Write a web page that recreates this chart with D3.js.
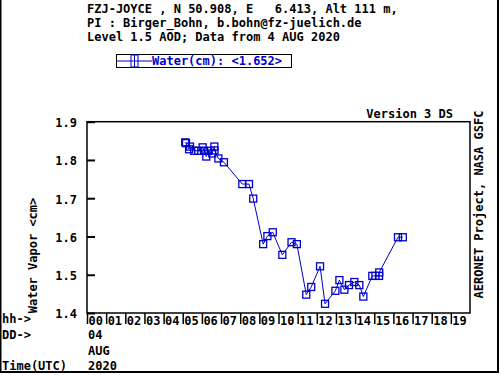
<!DOCTYPE html>
<html><head><meta charset="utf-8">
<script src="https://cdn.jsdelivr.net/npm/d3@7"></script>
<style>body{margin:0;background:#fff}svg{display:block}text{font-family:"DejaVu Sans Mono",monospace;font-weight:bold;font-size:12px}</style>
</head><body>
<script>
const hours = [5.13,5.17,5.33,5.38,5.60,5.81,6.04,6.11,6.23,6.33,6.54,6.65,6.66,6.86,7.15,8.11,8.46,8.68,9.20,9.42,9.70,10.20,10.68,10.96,11.45,11.71,12.17,12.43,12.97,13.18,13.44,13.68,13.96,14.22,14.43,14.90,15.06,15.25,15.26,16.24,16.49];
const water = [1.846,1.844,1.828,1.835,1.824,1.824,1.833,1.824,1.809,1.824,1.817,1.835,1.825,1.804,1.794,1.737,1.737,1.699,1.580,1.601,1.611,1.552,1.585,1.580,1.448,1.468,1.522,1.424,1.458,1.486,1.461,1.473,1.481,1.473,1.443,1.497,1.497,1.497,1.506,1.598,1.598];
const yTicks = [1.4,1.5,1.6,1.7,1.8,1.9];
const hourLabels = ["00","01","02","03","04","05","06","07","08","09","10","11","12","13","14","15","16","17","18","19"];
const headerLines = ["FZJ-JOYCE , N 50.908, E   6.413, Alt 111 m,","PI : Birger_Bohn, b.bohn@fz-juelich.de","Level 1.5 AOD; Data from 4 AUG 2020"];
const legendLabel = "Water(cm): <1.652>";
const blue = "#0000cc";

const W=500,H=375;
const svg=d3.select("body").append("svg").attr("width",W).attr("height",H);
const L=87,R=470,T=121.7,B=313;
const x=d3.scaleLinear().domain([0,20]).range([L,R]);
const y=d3.scaleLinear().domain([1.4,1.9]).range([B,T]);

// outer frame
svg.append("rect").attr("x",0.5).attr("y",-2).attr("width",497.5).attr("height",374).attr("fill","none").attr("stroke","#000").attr("stroke-width",2);

// header
svg.selectAll(".hdr").data(headerLines).join("text").attr("class","hdr")
  .attr("x",87).attr("y",(d,i)=>13+i*14).attr("xml:space","preserve").style("white-space","pre").text(d=>d);

// legend
const lg=svg.append("g");
lg.append("rect").attr("x",116.5).attr("y",54.5).attr("width",175).attr("height",13).attr("fill","none").attr("stroke","#000").attr("stroke-width",1);
lg.append("line").attr("x1",117).attr("x2",152).attr("y1",61).attr("y2",61).attr("stroke",blue);
lg.append("rect").attr("x",131).attr("y",55).attr("width",7).attr("height",12).attr("fill","none").attr("stroke",blue);
lg.append("line").attr("x1",134.5).attr("x2",134.5).attr("y1",55).attr("y2",67).attr("stroke",blue);
lg.append("text").attr("x",152).attr("y",65).attr("fill",blue).text(legendLabel);

// plot frame
svg.append("rect").attr("x",L).attr("y",T).attr("width",R-L).attr("height",B-T).attr("fill","none").attr("stroke","#000").attr("stroke-width",1.5);

// y axis
const ya=d3.axisLeft(y).tickValues(yTicks).tickSize(-8).tickPadding(10).tickFormat(d3.format(".1f"));
const yg=svg.append("g").attr("transform",`translate(${L},0)`).call(ya);
yg.select(".domain").remove();
yg.selectAll("line").attr("stroke-width",2);
yg.selectAll("text").attr("font-size",13).attr("dy","0.4em").attr("fill","#000");

// x axis hours
const xa=d3.axisBottom(x).tickValues(d3.range(20)).tickSize(11).tickFormat((d,i)=>hourLabels[i]);
const xg=svg.append("g").attr("transform",`translate(0,${B})`).call(xa);
xg.select(".domain").remove();
xg.selectAll("line").attr("stroke-width",1.5);
xg.selectAll("text").attr("text-anchor","start").attr("dx",1).attr("y",3).attr("dy","0.71em").attr("fill","#000");

// lower labels
const lower=[["hh->",2,323],["DD->",2,339],["Time(UTC)",2,370],["04",88,339],["AUG",88,355],["2020",88,370]];
svg.selectAll(".low").data(lower).join("text").attr("class","low").attr("x",d=>d[1]).attr("y",d=>d[2]).text(d=>d[0]);

// side texts
svg.append("text").attr("x",453).attr("y",118).attr("text-anchor","end").text("Version 3 DS");
svg.append("text").attr("transform","translate(483,204.5) rotate(-90)").attr("text-anchor","middle").text("AERONET Project, NASA GSFC");
svg.append("text").attr("transform","translate(37,255.5) rotate(-90)").attr("text-anchor","middle").text("Water Vapor <cm>");

// data
const pts=hours.map((h,i)=>[h,water[i]]);
svg.append("path").datum(pts).attr("fill","none").attr("stroke",blue).attr("stroke-width",1)
  .attr("d",d3.line().x(d=>x(d[0])).y(d=>y(d[1])));
svg.selectAll(".pt").data(pts).join("rect").attr("class","pt")
  .attr("x",d=>x(d[0])-3.5).attr("y",d=>y(d[1])-3.5).attr("width",7).attr("height",7)
  .attr("fill","none").attr("stroke",blue).attr("stroke-width",1.3);
</script>
</body></html>
